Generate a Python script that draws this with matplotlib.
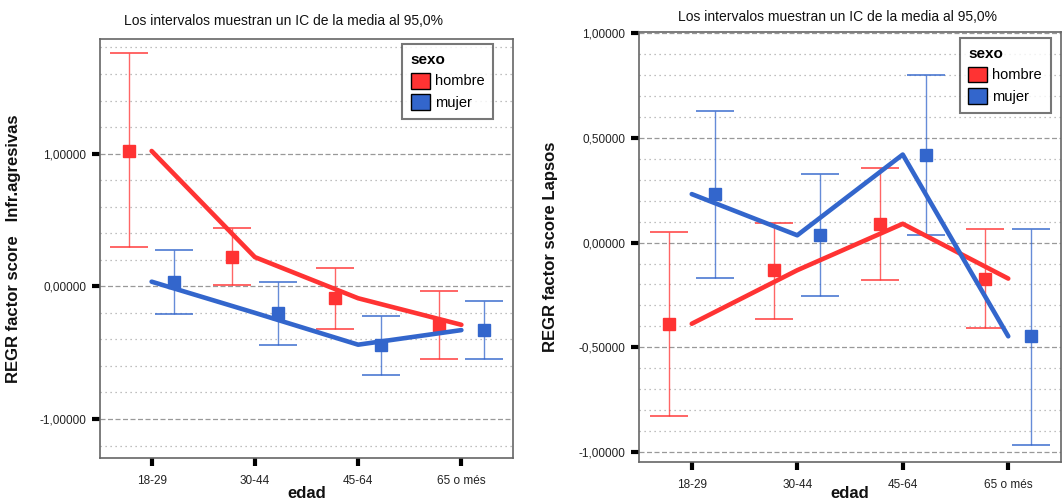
import matplotlib
matplotlib.use("Agg")
import matplotlib.pyplot as plt
import numpy as np
from matplotlib.patches import Patch
from matplotlib.ticker import MultipleLocator, FuncFormatter

plt.rcParams['font.family'] = ['Liberation Sans', 'DejaVu Sans']

categories = ['18-29', '30-44', '45-64', '65 o més']
series_names = ['hombre', 'mujer']

# Panel 1: Infr.agresivas
agr_hombre_mean = [1.02, 0.22, -0.09, -0.29]
agr_hombre_lo = [0.30, 0.01, -0.32, -0.55]
agr_hombre_hi = [1.76, 0.44, 0.14, -0.035]
agr_mujer_mean = [0.035, -0.20, -0.44, -0.33]
agr_mujer_lo = [-0.21, -0.44, -0.67, -0.55]
agr_mujer_hi = [0.27, 0.03, -0.22, -0.11]

# Panel 2: Lapsos
lap_hombre_mean = [-0.388, -0.132, 0.09, -0.172]
lap_hombre_lo = [-0.83, -0.364, -0.178, -0.407]
lap_hombre_hi = [0.05, 0.093, 0.356, 0.064]
lap_mujer_mean = [0.232, 0.035, 0.421, -0.448]
lap_mujer_lo = [-0.17, -0.256, 0.037, -0.97]
lap_mujer_hi = [0.629, 0.33, 0.80, 0.064]

RED = '#ff3333'
BLUE = '#3366cc'
W, H = 1063, 501

fig = plt.figure(figsize=(W / 100, H / 100), dpi=100)


def px_axes(x0, y0, x1, y1):
    return fig.add_axes([x0 / W, 1 - y1 / H, (x1 - x0) / W, (y1 - y0) / H])


fmt = FuncFormatter(lambda v, p: ('%.5f' % v).replace('.', ','))


def draw_panel(ax, hm, hlo, hhi, mm, mlo, mhi, ylim, major, minor, ylabel,
               leg_anchor):
    x = np.arange(len(categories))
    off = 0.22
    for mean, lo, hi, col, d in [(hm, hlo, hhi, RED, -off), (mm, mlo, mhi, BLUE, off)]:
        mean = np.array(mean); lo = np.array(lo); hi = np.array(hi)
        ax.errorbar(x + d, mean, yerr=[mean - lo, hi - mean], fmt='none',
                    ecolor=col, alpha=0.75, elinewidth=1.0, capsize=13.5,
                    capthick=1.4, zorder=3)
        ax.plot(x + d, mean, 's', ms=9, color=col, mec=col, zorder=4)
        ax.plot(x, mean, '-', lw=3.3, color=col, solid_capstyle='round', zorder=5)
    ax.set_xlim(-0.5, len(categories) - 0.5)
    ax.set_ylim(*ylim)
    ax.set_xticks(x)
    ax.set_xticklabels(categories, fontsize=8.5, color='#222222')
    ax.yaxis.set_major_locator(MultipleLocator(major))
    ax.yaxis.set_minor_locator(MultipleLocator(minor))
    ax.yaxis.set_major_formatter(fmt)
    ax.tick_params(axis='both', which='major', direction='out', length=6,
                   width=3, color='black', labelsize=8.5, labelcolor='#222222', pad=4)
    ax.tick_params(axis='y', which='minor', length=0)
    ax.tick_params(axis='x', pad=6)
    ax.grid(True, which='major', axis='y', color='#999999', lw=0.9,
            linestyle=(0, (4, 2)), zorder=0)
    ax.grid(True, which='minor', axis='y', color='#aaaaaa', lw=0.9,
            linestyle=(0, (1, 3)), zorder=0)
    for s in ax.spines.values():
        s.set_color('#666666'); s.set_linewidth(1.2)
    ax.set_axisbelow(True)
    ax.set_ylabel(ylabel, fontsize=12, fontweight='bold', color='#111111')
    ax.set_xlabel('edad', fontsize=12, fontweight='bold', color='#111111')
    handles = [Patch(facecolor=RED, edgecolor='black', lw=1.0),
               Patch(facecolor=BLUE, edgecolor='black', lw=1.0)]
    leg = ax.legend(handles, series_names, title='sexo', loc='upper right',
                    bbox_to_anchor=leg_anchor, borderaxespad=0, fontsize=10.5,
                    frameon=True, fancybox=False, edgecolor='#555555',
                    handlelength=1.3, handleheight=1.3, handletextpad=0.35,
                    borderpad=0.6, labelspacing=0.4, alignment='left')
    leg.get_title().set_fontweight('bold')
    leg.get_title().set_fontsize(11)
    leg.get_frame().set_linewidth(1.5)
    leg.set_zorder(10)


ax1 = px_axes(100, 39, 513, 458)
draw_panel(ax1, agr_hombre_mean, agr_hombre_lo, agr_hombre_hi,
           agr_mujer_mean, agr_mujer_lo, agr_mujer_hi,
           (-1.294, 1.864), 1.0, 0.2, 'REGR factor score   Infr.agresivas',
           (0.952, 0.988))
ax1.yaxis.set_label_coords(-(100 - 21) / 413, 0.5)
ax1.xaxis.set_label_coords(0.5, -(486 - 458) / 419)

ax2 = px_axes(639, 32, 1061, 462)
draw_panel(ax2, lap_hombre_mean, lap_hombre_lo, lap_hombre_hi,
           lap_mujer_mean, lap_mujer_lo, lap_mujer_hi,
           (-1.049, 1.007), 0.5, 0.1, 'REGR factor score Lapsos',
           (0.976, 0.986))
ax2.yaxis.set_label_coords(-(639 - 558) / 422, 0.5)
ax2.xaxis.set_label_coords(0.5, -(486 - 462) / 430)

title = 'Los intervalos muestran un IC de la media al 95,0%'
fig.text(284 / W, 1 - 21 / H, title, ha='center', va='center', fontsize=10, color='#111111')
fig.text(838 / W, 1 - 17 / H, title, ha='center', va='center', fontsize=10, color='#111111')

fig.savefig('out.png', dpi=100, facecolor='white')
